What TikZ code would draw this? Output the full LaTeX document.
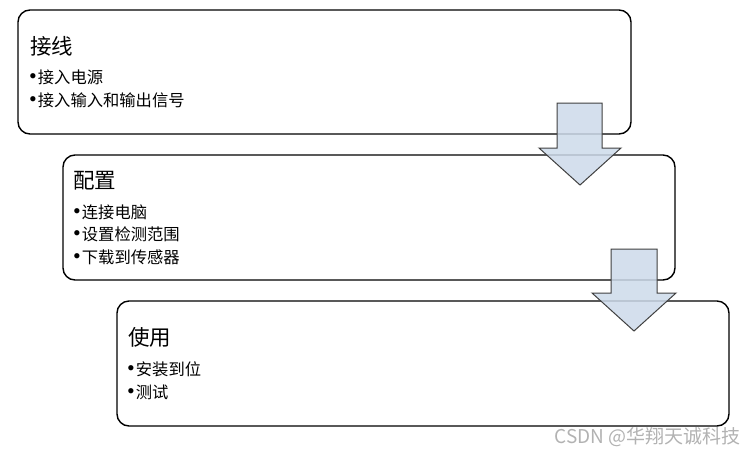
\documentclass[tikz,border=0pt]{standalone}
\usepackage{fontspec}
\setmainfont{Noto Sans CJK SC}
\newfontfamily\bulletfont{Liberation Serif}
\newcommand{\itembullet}{{\bulletfont\fontsize{22}{22}\selectfont •}\kern1pt}
\usetikzlibrary{positioning}
\begin{document}
\begin{tikzpicture}[x=1pt,y=-1pt,
  stagebox/.style={draw=black,line width=1.4pt,rounded corners=12pt,fill=white,inner sep=0pt},
  titletext/.style={anchor=west,inner sep=0pt,font=\fontsize{21.5}{24}\selectfont},
  itemtext/.style={anchor=west,inner sep=0pt,font=\fontsize{16.3}{19}\selectfont},
  flowarrow/.style={draw=black!75,line width=1pt,fill={rgb,255:red,205;green,218;blue,234},fill opacity=0.85,line join=miter},
  marktext/.style={anchor=east,inner sep=0pt,text=black!30,font=\fontsize{19}{21}\selectfont}]
\useasboundingbox (0,0) rectangle (755,456);
% boxes
\draw[stagebox] (18,10) rectangle (631,134);
\draw[stagebox] (63,155) rectangle (675,280);
\draw[stagebox] (117,301) rectangle (729,426);
% texts
\node[titletext] (t1) at (30,46) {接线};
\node[itemtext] (a1) at (29,77) {\itembullet 接入电源};
\node[itemtext] (a2) at (29,100) {\itembullet 接入输入和输出信号};
\node[titletext] (t2) at (73,181) {配置};
\node[itemtext] (b1) at (73,212) {\itembullet 连接电脑};
\node[itemtext] (b2) at (73,234) {\itembullet 设置检测范围};
\node[itemtext] (b3) at (73,257) {\itembullet 下载到传感器};
\node[titletext] (t3) at (128,337) {使用};
\node[itemtext] (c1) at (127,369) {\itembullet 安装到位};
\node[itemtext] (c2) at (127,392) {\itembullet 测试};
% arrows
\draw[flowarrow] (557,103) -- (602,103) -- (602,148) -- (621,148) -- (580,185) -- (539,148) -- (557,148) -- cycle;
\draw[flowarrow] (611,249) -- (657,249) -- (657,293) -- (676,293) -- (634,331) -- (592,293) -- (611,293) -- cycle;
% watermark
\node[marktext] (wm) at (741,437) {CSDN @华翔天诚科技};
\end{tikzpicture}
\end{document}
